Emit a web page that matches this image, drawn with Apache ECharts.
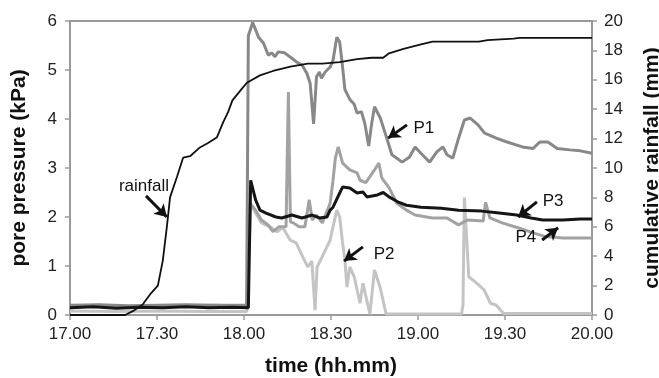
<!DOCTYPE html>
<html>
<head>
<meta charset="utf-8">
<script src="https://cdn.jsdelivr.net/npm/echarts@6/dist/echarts.min.js"></script>
<style>
  html, body { margin: 0; padding: 0; background: #fff; }
  #chart { width: 659px; height: 378px; }
</style>
</head>
<body>
<div id="chart"></div>
<script>
// time in minutes after 17.00
const timeLabels = ['17.00', '17.30', '18.00', '18.30', '19.00', '19.30', '20.00']

// cumulative rainfall (mm)
const rainfall = [
  [0, 0], [19, 0], [22, 0.3], [25, 0.7], [27.6, 1.4], [30.3, 2.0], [32, 3.7], [33.4, 6.0],
  [34.5, 8.0], [36.9, 9.4], [39, 10.7], [41.4, 10.8], [44.8, 11.4], [47.6, 11.7], [50.7, 12.1],
  [52.8, 13.1], [54.5, 13.8], [56, 14.6], [59.3, 15.4], [61, 15.8], [65.5, 16.3], [70, 16.6],
  [76, 16.9], [82, 17.1], [87, 17.1], [93, 17.2], [99, 17.4], [104, 17.5], [108, 17.5],
  [110, 17.8], [115, 18.1], [120.7, 18.4], [125, 18.6], [141, 18.6], [144, 18.7], [153, 18.8],
  [155, 18.85], [180, 18.85]
]

// pore pressures (kPa)
const p1 = [
  [0, 0.2], [10, 0.21], [20, 0.19], [30, 0.2], [40, 0.21], [50, 0.2], [60.9, 0.2], [61.5, 5.7],
  [63, 5.97], [65, 5.67], [66.7, 5.55], [68.4, 5.3], [69.5, 5.35], [70.7, 5.27], [71.8, 5.37],
  [74, 5.35], [76.5, 5.24], [78, 5.17], [80, 5.1], [81.7, 4.93], [82.8, 4.73], [84, 3.9],
  [85, 4.86], [86, 4.96], [86.7, 4.83], [88, 4.96], [89.7, 5.06], [90.7, 5.2], [92, 5.67],
  [93, 5.57], [94, 5.06], [94.8, 4.6], [96.5, 4.4], [98, 4.3], [99, 4.12], [100.5, 4.15],
  [101.7, 3.9], [103, 3.45], [104, 3.9], [105, 4.25], [107, 4.02], [109, 3.65], [111, 3.27],
  [112.7, 3.2], [114.5, 3.12], [117, 3.22], [119, 3.43], [121, 3.3], [124, 3.12], [126.5, 3.33],
  [128.6, 3.43], [130, 3.27], [132, 3.2], [133.8, 3.57], [136, 3.98], [138, 4.02], [140.7, 3.88],
  [143, 3.71], [147, 3.61], [150.7, 3.53], [156, 3.43], [159.7, 3.4], [162, 3.53], [164.8, 3.53],
  [168, 3.4], [172.4, 3.37], [176, 3.35], [180, 3.3]
]

const p2 = [
  [0, 0.08], [15, 0.07], [30, 0.08], [45, 0.07], [61, 0.07], [62.3, 2.28], [64, 2.08], [66, 1.88],
  [69, 1.8], [71.4, 1.7], [73.4, 1.78], [75.9, 1.53], [78, 1.47], [80.3, 1.18], [82, 0.98],
  [83.4, 1.1], [84.5, 0.1], [85.2, 0.98], [86.9, 1.18], [88.6, 1.39], [89.7, 1.53], [90.7, 1.8],
  [92, 2.14], [93, 2.0], [94, 1.47], [94.8, 1.12], [95.5, 0.57], [96.5, 0.98], [98, 0.78],
  [100, 0.24], [101, 0.65], [103.4, 0.02], [105, 0.92], [107, 0.55], [109, 0.02], [135, 0.02],
  [135.5, 0.2], [136, 2.4], [137.5, 0.78], [139, 0.71], [141, 0.61], [142.8, 0.51], [145, 0.24],
  [147, 0.2], [149.5, 0.03], [180, 0.03]
]

const p3 = [
  [0, 0.15], [8, 0.17], [16, 0.14], [24, 0.16], [32, 0.15], [40, 0.17], [48, 0.15], [56, 0.16],
  [61.5, 0.15], [62.3, 2.75], [64, 2.35], [65.5, 2.14], [67.6, 2.08], [71, 2.0], [73, 1.98],
  [76.5, 2.04], [80, 1.98], [83.5, 2.04], [86, 1.98], [88.6, 2.0], [89.7, 2.14], [90.7, 2.2],
  [93, 2.49], [94, 2.61], [96.5, 2.59], [99, 2.49], [101, 2.51], [102.4, 2.41], [106, 2.45],
  [108, 2.5], [110, 2.41], [113, 2.31], [116, 2.24], [121, 2.2], [128, 2.18], [134, 2.14],
  [142, 2.12], [148, 2.08], [154, 2.04], [159, 1.98], [163, 1.94], [170, 1.94], [176, 1.96],
  [180, 1.96]
]

const p4 = [
  [0, 0.18], [10, 0.2], [20, 0.17], [30, 0.19], [40, 0.18], [50, 0.2], [61, 0.18], [62, 2.28],
  [64, 2.14], [66, 1.94], [68.3, 1.84], [70, 1.7], [72, 1.8], [74.5, 1.8], [75.3, 4.55], [76, 1.9],
  [77, 1.88], [79, 1.8], [81, 1.8], [82.5, 2.35], [83.5, 1.94], [85, 2.04], [87, 1.88],
  [89.7, 2.28], [90.7, 2.75], [91.5, 3.2], [92.5, 3.43], [94, 3.1], [96.5, 2.96], [99, 2.9],
  [100, 2.75], [102, 2.7], [105, 2.96], [106.5, 3.1], [107.5, 2.8], [110, 2.6], [112.7, 2.28],
  [116, 2.14], [119, 2.04], [125, 1.98], [130, 1.98], [134, 1.84], [137, 1.94], [142.5, 1.92],
  [143.3, 2.3], [144.8, 1.98], [149, 1.88], [155, 1.77], [160, 1.67], [164, 1.6], [170, 1.57],
  [180, 1.57]
]

// annotation arrows and labels, in (minute, kPa)
const arrowFrom = [[26.2, 2.43], [116.2, 3.88], [101, 1.39], [161, 2.31], [162.8, 1.53]]
const arrowTo = [[33.4, 2.0], [109.7, 3.61], [94.5, 1.1], [154.5, 2.0], [168.3, 1.78]]
const labelText = ['rainfall', 'P1', 'P2', 'P3', 'P4']
const labelAt = [[25.5, 2.63], [122, 3.82], [108.3, 1.24], [166.6, 2.31], [157.2, 1.59]]

const font = 'Liberation Sans, Arial, sans-serif'
const axisGray = '#9a9a9a'

function lineSeries(name, data, color, width, yIdx) {
  return {
    name: name,
    type: 'line',
    yAxisIndex: yIdx,
    data: data,
    showSymbol: false,
    symbol: 'none',
    animation: false,
    lineStyle: { color: color, width: width },
    itemStyle: { color: color }
  }
}

const p3Series = lineSeries('P3', p3, '#151515', 3, 0)
p3Series.markLine = {
  silent: true,
  symbol: ['none', 'arrow'],
  symbolSize: [11, 12],
  animation: false,
  label: { show: false },
  lineStyle: { color: '#111', width: 3, type: 'solid' },
  data: arrowFrom.map((a, i) => [{ coord: a }, { coord: arrowTo[i] }])
}
p3Series.markPoint = {
  silent: true,
  symbol: 'circle',
  symbolSize: 1,
  animation: false,
  itemStyle: { color: 'transparent' },
  label: {
    show: true,
    position: 'inside',
    color: '#111',
    fontSize: 17,
    fontFamily: font,
    formatter: p => p.name
  },
  data: labelAt.map((c, i) => ({ name: labelText[i], coord: c }))
}

const option = {
  animation: false,
  grid: {
    left: 70,
    right: 67,
    top: 21,
    bottom: 63,
    containLabel: false,
    outerBoundsMode: 'none',
    show: true,
    borderColor: axisGray,
    borderWidth: 2
  },
  xAxis: {
    type: 'value',
    min: 0,
    max: 180,
    interval: 30,
    name: 'time (hh.mm)',
    nameLocation: 'middle',
    nameGap: 41,
    nameTextStyle: { fontSize: 21, fontWeight: 'bold', color: '#111', fontFamily: font },
    axisLine: { show: true, lineStyle: { color: axisGray, width: 2 } },
    axisTick: { show: true, length: 5, lineStyle: { color: axisGray, width: 1.5 } },
    axisLabel: {
      fontSize: 17,
      color: '#222',
      fontFamily: font,
      margin: 11,
      formatter: v => timeLabels[Math.round(v / 30)]
    },
    splitLine: { show: false }
  },
  yAxis: [
    {
      type: 'value',
      min: 0,
      max: 6,
      interval: 1,
      name: 'pore pressure (kPa)',
      nameLocation: 'middle',
      nameGap: 40,
      nameTextStyle: { fontSize: 21, fontWeight: 'bold', color: '#111', fontFamily: font },
      axisLine: { show: true, lineStyle: { color: axisGray, width: 2 } },
      axisTick: { show: true, length: 5, lineStyle: { color: axisGray, width: 1.5 } },
      axisLabel: { fontSize: 17, color: '#222', fontFamily: font, margin: 13 },
      splitLine: { show: false }
    },
    {
      type: 'value',
      min: 0,
      max: 20,
      interval: 2,
      position: 'right',
      name: 'cumulative rainfall (mm)',
      nameLocation: 'middle',
      nameGap: 50,
      nameRotate: 90,
      nameTextStyle: { fontSize: 21, fontWeight: 'bold', color: '#111', fontFamily: font },
      axisLine: { show: true, lineStyle: { color: axisGray, width: 2 } },
      axisTick: { show: true, length: 5, lineStyle: { color: axisGray, width: 1.5 } },
      axisLabel: { fontSize: 17, color: '#222', fontFamily: font, margin: 12 },
      splitLine: { show: false }
    }
  ],
  series: [
    lineSeries('P2', p2, '#c4c4c4', 3, 0),
    lineSeries('P4', p4, '#a2a2a2', 3, 0),
    lineSeries('P1', p1, '#888888', 3, 0),
    p3Series,
    lineSeries('rainfall', rainfall, '#111111', 1.8, 1)
  ]
}

echarts.init(document.getElementById('chart'), null, { renderer: 'canvas' }).setOption(option)
</script>
</body>
</html>
